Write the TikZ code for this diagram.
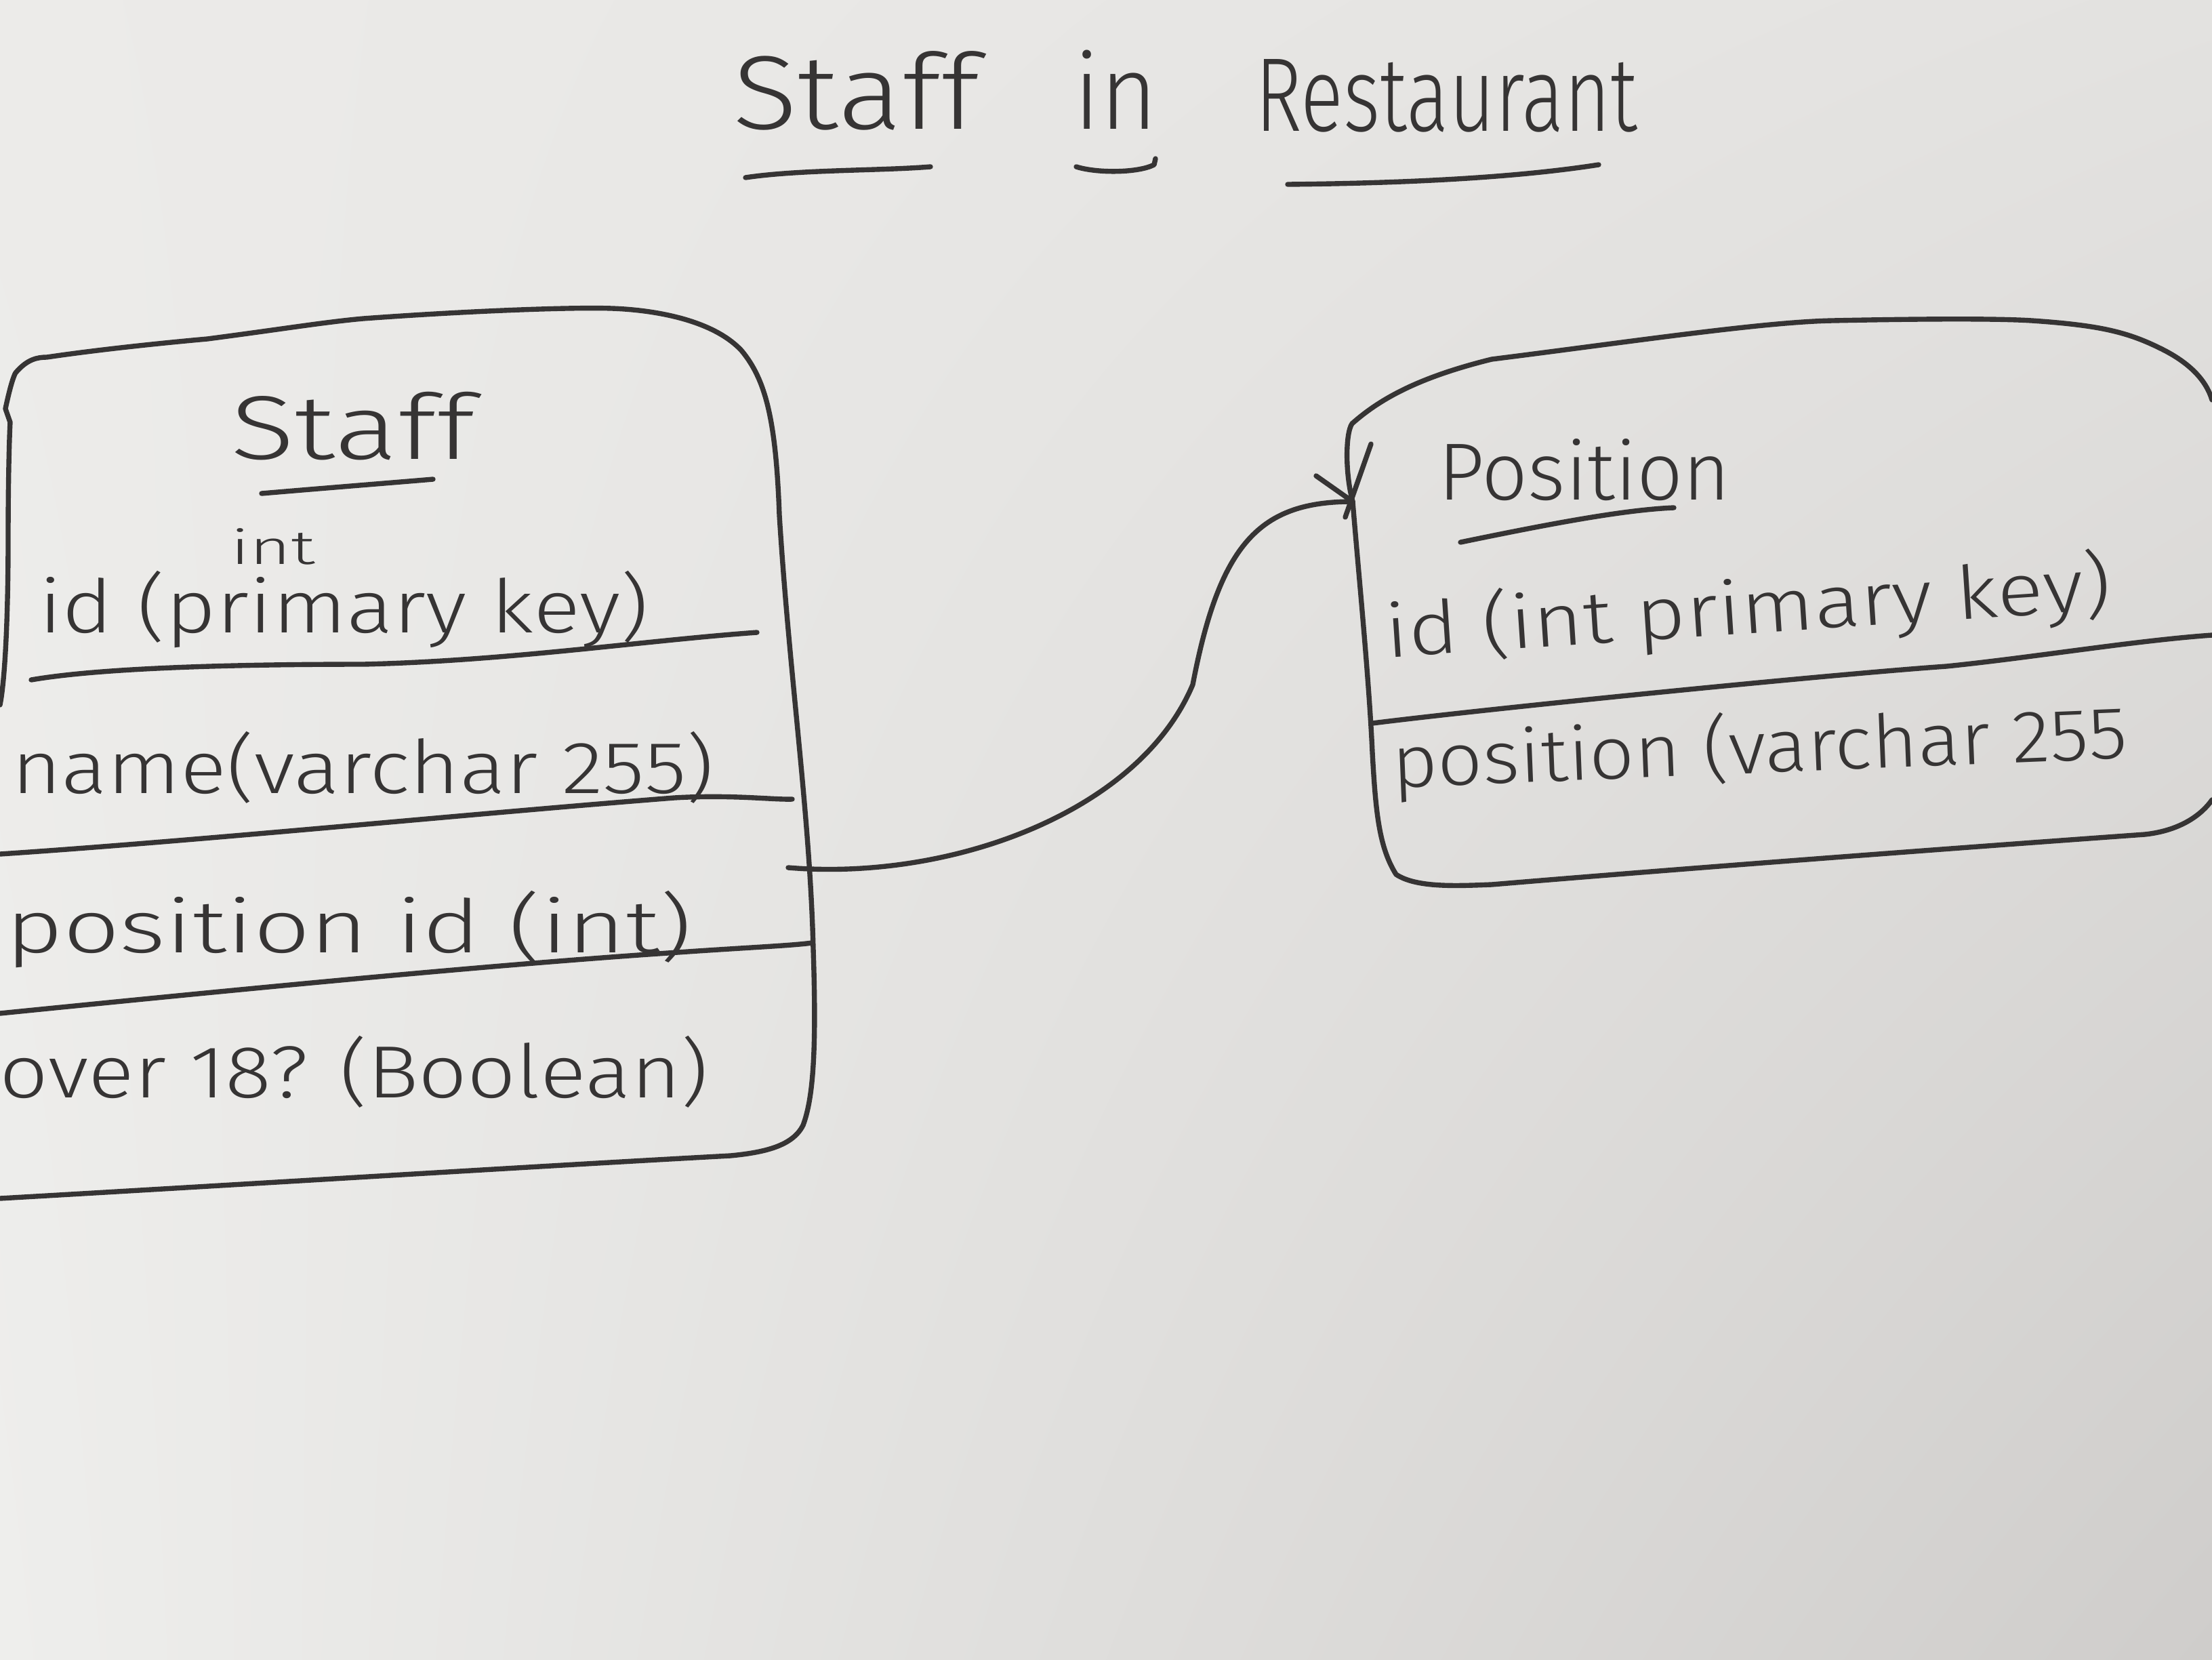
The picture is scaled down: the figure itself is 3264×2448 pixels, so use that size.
\documentclass[tikz,border=0pt]{standalone}
\usepackage{fontspec}
\setmainfont{Fira Sans Light}
\usepackage{graphicx}
\usetikzlibrary{shadings}
\definecolor{ink}{HTML}{363434}
\definecolor{paperUL}{HTML}{ECEBE9}
\definecolor{paperUR}{HTML}{E3E2E0}
\definecolor{paperLL}{HTML}{EEEEEC}
\definecolor{paperLR}{HTML}{CFCDCB}
\newcommand\fitw[2]{\resizebox{#1}{\height}{#2}}
\begin{document}
\begin{tikzpicture}[x=0.01cm,y=-0.01cm,
 pen/.style={draw=ink,line width=2.1pt,line cap=round,line join=round},
 hand/.style={text=ink,inner sep=0pt,outer sep=0pt,anchor=base west},
 big/.style={hand,font=\fontsize{44}{50}\selectfont},
 head/.style={hand,font=\fontsize{38}{44}\selectfont},
 row/.style={hand,font=\fontsize{31}{37}\selectfont},
 tiny/.style={hand,font=\fontsize{20}{24}\selectfont}]
\shade[upper left=paperUL,upper right=paperUR,lower left=paperLL,lower right=paperLR] (0,0) rectangle (3264,2448);
\useasboundingbox (0,0) rectangle (3264,2448);
% title
\node[big] (tStaff) at (1081,190) {\fitw{3.64cm}{Staff}};
\node[big] (tIn) at (1584,190) {\fitw{1.24cm}{in}};
\node[big] (tRest) at (1852,193) {\fitw{5.64cm}{Restaurant}};
\draw[pen] (1100,262) .. controls (1180,250) and (1300,252) .. (1373,246);
\draw[pen] (1588,246) .. controls (1620,256) and (1680,255) .. (1703,243) -- (1705,234);
\draw[pen] (1900,272) .. controls (2100,270) and (2250,260) .. (2359,243);
% Staff box
\draw[pen] (0,1040) .. controls (8,1000) and (12,900) .. (12,800) .. controls (12,700) and (14,640) .. (15,623) -- (8,603) .. controls (15,570) and (20,555) .. (23,550) .. controls (40,530) and (55,527) .. (69,527) .. controls (150,515) and (250,505) .. (306,500) .. controls (420,485) and (480,475) .. (536,470) .. controls (700,458) and (850,453) .. (903,455) .. controls (960,457) and (1050,470) .. (1094,517) .. controls (1130,560) and (1145,620) .. (1150,760) .. controls (1165,1000) and (1195,1200) .. (1200,1400) .. controls (1205,1550) and (1200,1620) .. (1185,1660) .. controls (1170,1690) and (1130,1700) .. (1078,1705) .. controls (800,1720) and (400,1745) .. (0,1768);
\draw[pen] (46,1003) .. controls (150,985) and (350,980) .. (536,980) .. controls (750,975) and (950,945) .. (1117,933);
\draw[pen] (0,1260) .. controls (300,1240) and (700,1200) .. (995,1177) .. controls (1080,1172) and (1140,1180) .. (1169,1179);
\draw[pen] (0,1495) .. controls (300,1465) and (700,1425) .. (1000,1405) .. controls (1100,1398) and (1170,1395) .. (1198,1391);
\node[head] (sTitle) at (340,677) {\fitw{3.6cm}{Staff}};
\draw[pen] (386,728) .. controls (480,720) and (580,712) .. (639,707);
\node[tiny] (sInt) at (340,832) {\fitw{1.25cm}{int}};
\node[row] (sId) at (57,933) {\fitw{9.0cm}{id (primary key)}};
\node[row] (sName) at (17,1170) {\fitw{10.36cm}{name(varchar 255)}};
\node[row] (sPos) at (8,1405) {\fitw{10.12cm}{position id (int)}};
\node[row] (sOver) at (0,1619) {\fitw{10.45cm}{over 18? (Boolean)}};
% Position box
\draw[pen] (3264,590) .. controls (3255,560) and (3230,535) .. (3190,515) .. controls (3140,490) and (3100,480) .. (2998,473) .. controls (2950,470) and (2850,470) .. (2704,473) .. controls (2600,475) and (2400,505) .. (2201,530) .. controls (2100,555) and (2040,585) .. (1995,625) .. controls (1985,640) and (1985,700) .. (1996,740) .. controls (2005,850) and (2020,1000) .. (2025,1110) .. controls (2030,1200) and (2035,1250) .. (2060,1290) .. controls (2090,1310) and (2150,1307) .. (2201,1305) .. controls (2500,1280) and (2900,1250) .. (3165,1231) .. controls (3220,1225) and (3250,1200) .. (3264,1180);
\draw[pen] (2025,1067) .. controls (2200,1045) and (2700,995) .. (2872,983) .. controls (3000,970) and (3150,945) .. (3264,937);
\node[head,font=\fontsize{34}{40}\selectfont] (pTitle) at (2122,737) {\fitw{4.31cm}{Position}};
\draw[pen] (2155,800) .. controls (2300,770) and (2400,752) .. (2470,749);
\node[row,rotate=3.8] (pId) at (2046,970) {\fitw{10.73cm}{id (int primary key)}};
\node[row,rotate=2.3] (pPos) at (2055,1162) {\fitw{10.85cm}{position (varchar 255}};
% connector
\coordinate (staffR) at (1163,1280);
\coordinate (posL) at (1996,740);
\draw[pen] (staffR) .. controls (1400,1300) and (1680,1200) .. (1760,1010) .. controls (1800,800) and (1860,740) .. (posL);
\draw[pen] ([shift={(-54,-38)}]posL) -- (posL);
\draw[pen] ([shift={(27,-85)}]posL) -- ([shift={(-11,23)}]posL);
\end{tikzpicture}
\end{document}
